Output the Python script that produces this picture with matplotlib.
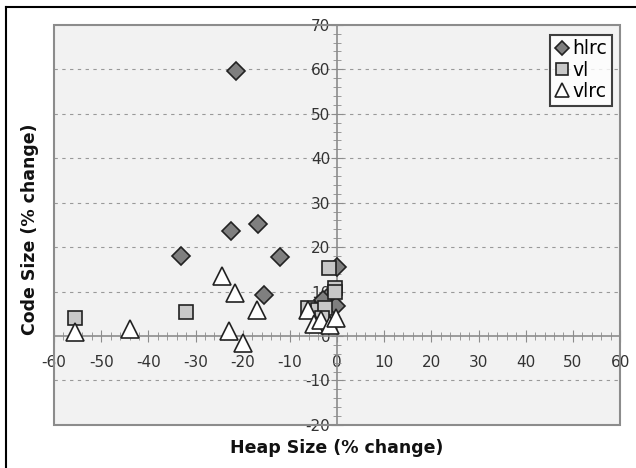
import matplotlib.pyplot as plt
from matplotlib.patches import Rectangle
from matplotlib.ticker import MultipleLocator

# hlrc (diamonds)
hlrc_x = [-21.5, -22.5, -16.7, -33.0, -12.1, -15.4, 0.0, -2.2, -0.3, -3.0]
hlrc_y = [59.6, 23.6, 25.2, 18.0, 17.7, 9.2, 15.6, 8.6, 6.8, 8.1]

# vl (squares)
vl_x = [-55.6, -32.0, -1.8, -0.4, -0.4, -6.2, -4.0, -2.5, -3.2]
vl_y = [4.1, 5.5, 15.4, 10.9, 9.8, 6.2, 5.9, 6.3, 4.1]

# vlrc (triangles)
vlrc_x = [-55.6, -44.0, -24.5, -21.6, -17.0, -23.0, -20.0, -6.1, -4.8, -3.5, -1.4, -0.3]
vlrc_y = [0.8, 1.5, 13.4, 9.6, 5.9, 1.1, -1.5, 5.9, 2.7, 3.6, 2.5, 4.0]

fig = plt.figure(figsize=(6.36, 4.68), dpi=100)
ax = fig.add_axes([0.085, 0.092, 0.89, 0.855])
ax.set_facecolor("#f2f2f2")

ax.set_xlim(-60, 60)
ax.set_ylim(-20, 70)

# dashed horizontal grid
for yv in range(-10, 70, 10):
    if yv != 0:
        ax.axhline(yv, color="#999999", linestyle=(0, (3, 4)), linewidth=0.8, zorder=1)

# axes through the origin
ax.spines["left"].set_position("zero")
ax.spines["bottom"].set_position("zero")
ax.spines["top"].set_visible(False)
ax.spines["right"].set_visible(False)
for s in ("left", "bottom"):
    ax.spines[s].set_color("#8c8c8c")
    ax.spines[s].set_linewidth(1.2)

ax.add_patch(Rectangle((0, 0), 1, 1, transform=ax.transAxes, fill=False,
                       edgecolor="#8c8c8c", linewidth=1.5, zorder=5, clip_on=False))

ax.xaxis.set_minor_locator(MultipleLocator(2))
ax.yaxis.set_minor_locator(MultipleLocator(2))
ax.tick_params(which="major", direction="inout", length=8, color="#8c8c8c",
               labelsize=11, labelcolor="#333333", pad=1)
ax.tick_params(which="minor", direction="inout", length=6, color="#8c8c8c")
ax.tick_params(axis="x", pad=10)

ax.set_xticks(range(-60, 61, 10))
ax.set_xticklabels([str(v) for v in range(-60, 61, 10)])
ax.set_yticks(range(-20, 71, 10))
ax.set_yticklabels([str(v) for v in range(-20, 71, 10)])

ms = 10
ax.plot(hlrc_x, hlrc_y, "D", markersize=ms - 1, markerfacecolor="#7f7f7f",
        markeredgecolor="#222222", markeredgewidth=1.2, label="hlrc", zorder=3)
ax.plot(vl_x, vl_y, "s", markersize=ms, markerfacecolor="#c8c8c8",
        markeredgecolor="#222222", markeredgewidth=1.2, label="vl", zorder=3)
ax.plot(vlrc_x, vlrc_y, "^", markersize=ms + 3, markerfacecolor="white",
        markeredgecolor="#222222", markeredgewidth=1.2, label="vlrc", zorder=4)

leg = ax.legend(loc="upper right", bbox_to_anchor=(0.985, 0.975), fontsize=13.5,
                frameon=True, fancybox=False, handlelength=0.8, handletextpad=0.15,
                borderpad=0.25, labelspacing=0.12, markerscale=0.8,
                borderaxespad=0.0)
leg.get_frame().set_edgecolor("#111111")
leg.get_frame().set_linewidth(1.5)
leg.get_frame().set_facecolor("white")

fig.text(0.53, 0.043, "Heap Size (% change)", ha="center", va="center",
         fontsize=12.5, fontweight="bold", color="#111111")
fig.text(0.047, 0.51, "Code Size (% change)", ha="center", va="center",
         rotation=90, fontsize=12.5, fontweight="bold", color="#111111")

# outer frame (left and top edges visible)
fig.add_artist(plt.Line2D([0.009, 0.009], [0.0, 0.985], transform=fig.transFigure,
                          color="black", linewidth=1.5))
fig.add_artist(plt.Line2D([0.009, 1.0], [0.985, 0.985], transform=fig.transFigure,
                          color="black", linewidth=1.5))

fig.savefig("out.png", dpi=100)
